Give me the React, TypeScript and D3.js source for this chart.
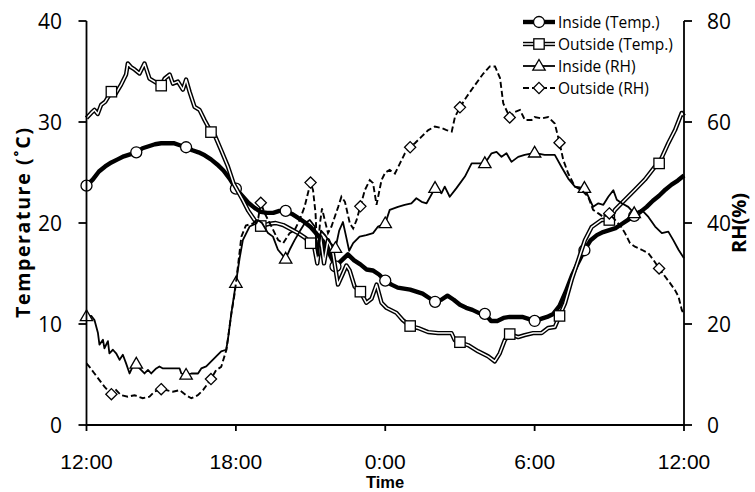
import * as d3 from "d3";

// x axis: hours since 12:00
const hourTicks = [0, 6, 12, 18, 24];
const hourLabels = ["12:00", "18:00", "0:00", "6:00", "12:00"];
const tempTicks = [0, 10, 20, 30, 40];
const rhTicks = [0, 20, 40, 60, 80];
const evenHours = [0, 2, 4, 6, 8, 10, 12, 14, 16, 18, 20, 22];
const oddHours = [1, 3, 5, 7, 9, 11, 13, 15, 17, 19, 21, 23];

// [hour, °C]
const insideTemp: [number, number][] = [
  [0, 23.7], [0.25, 24.3], [0.5, 25.1], [0.75, 25.6], [1, 26.0], [1.25, 26.3], [1.5, 26.6], [1.75, 26.8],
  [2, 27.0], [2.25, 27.4], [2.5, 27.6], [2.75, 27.8], [3, 27.9], [3.25, 27.9], [3.5, 27.9], [3.75, 27.7],
  [4, 27.5], [4.25, 27.2], [4.5, 27.0], [4.75, 26.7], [5, 26.3], [5.25, 25.8], [5.5, 25.2], [5.75, 24.4],
  [6, 23.4], [6.25, 22.7], [6.5, 22.0], [6.75, 21.5], [7, 21.1], [7.25, 21.0], [7.5, 21.0], [7.75, 21.2],
  [8, 21.2], [8.25, 20.9], [8.5, 20.5], [8.75, 20.1], [9, 19.6], [9.25, 18.9], [9.5, 18.2], [9.75, 17.0],
  [10, 15.7], [10.25, 16.3], [10.5, 16.9], [10.75, 16.3], [11, 15.9], [11.25, 15.4], [11.5, 15.3], [11.75, 14.9],
  [12, 14.3], [12.25, 13.9], [12.5, 13.6], [12.75, 13.5], [13, 13.4], [13.25, 13.2], [13.5, 13.0], [13.75, 12.6],
  [14, 12.2], [14.25, 12.4], [14.5, 12.8], [14.75, 12.4], [15, 11.9], [15.25, 11.6], [15.5, 11.4], [15.75, 11.1],
  [16, 11.0], [16.25, 10.3], [16.5, 10.3], [16.75, 10.6], [17, 10.7], [17.25, 10.7], [17.5, 10.7], [17.75, 10.5],
  [18, 10.3], [18.25, 10.5], [18.5, 10.7], [18.75, 11.0], [19, 11.8], [19.25, 13.2], [19.5, 14.8], [19.75, 16.1],
  [20, 17.3], [20.25, 18.3], [20.5, 18.8], [20.75, 19.1], [21, 19.3], [21.25, 19.5], [21.5, 19.9], [21.75, 20.3],
  [22, 20.7], [22.25, 21.1], [22.5, 21.6], [22.75, 22.2], [23, 22.7], [23.25, 23.3], [23.5, 23.8], [23.75, 24.2],
  [24, 24.7],
];

const outsideTemp: [number, number][] = [
  [0, 30.4], [0.19, 30.9], [0.32, 31.2], [0.45, 30.8], [0.59, 31.7], [0.75, 32.0], [1, 33.0], [1.15, 32.7],
  [1.39, 33.7], [1.59, 34.7], [1.66, 35.8], [1.8, 35.4], [1.93, 35.2], [2.13, 34.8], [2.33, 35.8], [2.53, 34.3],
  [2.73, 34.0], [3, 33.6], [3.14, 34.3], [3.34, 34.7], [3.47, 33.8], [3.67, 34.0], [3.87, 33.2], [4.0, 34.2],
  [4.14, 33.0], [4.34, 31.5], [4.54, 31.2], [4.74, 30.2], [5, 29.0], [5.15, 28.7], [5.41, 27.2], [5.68, 25.6],
  [5.91, 23.9], [6.25, 22.4], [6.5, 21.2], [6.75, 20.3], [7, 19.7], [7.3, 19.9], [7.6, 20.0], [7.9, 19.8],
  [8.2, 19.4], [8.5, 19.0], [8.8, 18.5], [9, 18.0], [9.15, 17.6], [9.27, 16.0], [9.4, 18.6], [9.54, 16.0],
  [9.7, 18.3], [9.9, 17.0], [10.1, 13.9], [10.3, 15.0], [10.44, 15.8], [10.57, 15.3], [10.77, 13.7], [11, 13.2],
  [11.24, 12.1], [11.45, 12.5], [11.65, 13.9], [11.85, 12.1], [12.05, 11.6], [12.45, 11.1], [12.7, 10.4], [13, 9.8],
  [13.32, 9.6], [13.72, 9.2], [14.12, 9.1], [14.66, 9.1], [14.79, 8.4], [15, 8.2], [15.33, 7.9], [15.73, 7.3],
  [16.13, 6.8], [16.4, 6.3], [16.6, 7.1], [16.8, 8.4], [17, 9.0], [17.34, 8.7], [17.6, 8.9], [17.94, 9.1],
  [18.28, 9.1], [18.54, 9.6], [18.81, 9.7], [19, 10.8], [19.22, 12.05], [19.49, 14.4], [19.75, 16.3], [20.02, 18.3],
  [20.29, 19.6], [20.69, 20.3], [21, 20.3], [21.23, 21.3], [21.63, 22.3], [22.03, 23.3], [22.43, 24.3], [22.84, 25.6],
  [23, 25.9], [23.37, 27.9], [23.64, 29.2], [23.91, 30.9], [24, 30.6],
];

// [hour, %RH]
const insideRH: [number, number][] = [
  [0, 21.5], [0.19, 21.6], [0.32, 20.8], [0.46, 18.2], [0.52, 15.9], [0.66, 16.9], [0.72, 15.2], [0.86, 16.6],
  [0.92, 14.2], [1.06, 14.9], [1.19, 14.2], [1.33, 12.9], [1.46, 13.9], [1.59, 12.2], [1.73, 10.2], [1.86, 11.6],
  [2, 12.1], [2.13, 11.2], [2.33, 10.2], [2.47, 10.9], [2.6, 10.2], [2.8, 11.2], [2.93, 11.6], [3.07, 11.2],
  [3.54, 11.2], [3.74, 11.2], [3.81, 10.2], [4, 9.9], [4.21, 10.2], [4.48, 10.2], [4.61, 11.2], [4.81, 11.6],
  [5.01, 12.6], [5.21, 13.6], [5.41, 14.6], [5.61, 14.9], [5.68, 16.9], [5.82, 22.2], [6, 28.1], [6.15, 33.0],
  [6.28, 36.6], [6.55, 39.3], [6.82, 39.9], [6.89, 40.6], [7.05, 40.0], [7.29, 38.0], [7.49, 37.3], [7.69, 34.7],
  [8, 32.9], [8.16, 34.7], [8.36, 36.6], [8.56, 38.3], [8.76, 39.9], [8.97, 40.6], [9.17, 39.3], [9.3, 33.5],
  [9.42, 38.5], [9.6, 37.5], [9.8, 36.0], [10, 35.0], [10.15, 38.5], [10.3, 40.2], [10.42, 37.5], [10.55, 34.5],
  [10.71, 36.0], [10.97, 37.3], [11.24, 37.6], [11.51, 38.0], [11.71, 39.3], [12, 39.9], [12.18, 42.6], [12.51, 43.2],
  [12.78, 43.6], [13.05, 43.9], [13.25, 44.9], [13.46, 44.2], [13.66, 43.9], [14, 46.9], [14.26, 45.9], [14.39, 47.2],
  [14.59, 45.2], [14.86, 46.9], [15.2, 49.2], [15.47, 51.8], [16, 51.8], [16.27, 53.8], [16.47, 54.1], [16.67, 53.1],
  [16.87, 53.8], [17.07, 52.1], [17.34, 53.1], [17.6, 53.5], [18, 53.9], [18.4, 53.5], [18.81, 53.5], [19.08, 51.1],
  [19.35, 48.8], [19.62, 47.2], [20, 46.9], [20.22, 44.6], [20.35, 43.2], [20.56, 43.9], [20.76, 43.6], [20.96, 45.2],
  [21.16, 46.5], [21.3, 44.6], [21.5, 43.9], [21.76, 43.2], [22, 41.9], [22.3, 42.6], [22.57, 41.2], [22.84, 39.3],
  [23.11, 38.0], [23.37, 38.3], [23.57, 36.6], [23.78, 34.7], [24, 33.0],
];

const outsideRH: [number, number][] = [
  [0, 12.2], [0.12, 11.5], [0.32, 10.2], [0.52, 8.9], [0.72, 7.6], [1, 6.1], [1.19, 6.9], [1.39, 5.9],
  [1.66, 5.6], [1.93, 5.9], [2.26, 5.3], [2.53, 5.6], [2.73, 6.6], [3, 7.1], [3.2, 6.9], [3.47, 6.6],
  [3.74, 6.9], [4, 5.9], [4.21, 5.3], [4.47, 5.9], [4.68, 6.9], [5, 9.1], [5.21, 10.9], [5.41, 11.5],
  [5.62, 14.9], [5.82, 22.1], [5.95, 26.0], [6.08, 31.3], [6.22, 37.3], [6.4, 39.5], [6.69, 39.9], [6.9, 41.0],
  [7, 44.0], [7.16, 41.9], [7.43, 39.3], [7.7, 36.6], [7.9, 36.0], [8.16, 38.0], [8.36, 38.6], [8.56, 40.6],
  [8.76, 43.2], [9, 48.0], [9.1, 46.5], [9.2, 41.9], [9.27, 34.0], [9.38, 40.0], [9.46, 42.9], [9.57, 40.6],
  [9.7, 38.0], [9.84, 39.3], [9.97, 41.2], [10.11, 43.2], [10.24, 45.2], [10.38, 44.2], [10.58, 39.9], [10.71, 38.9],
  [10.85, 40.6], [11, 43.3], [11.18, 46.5], [11.38, 48.5], [11.51, 47.9], [11.65, 43.6], [11.85, 48.5], [12, 50.0],
  [12.18, 50.5], [12.39, 49.8], [12.59, 51.8], [12.79, 53.8], [13, 55.0], [13.19, 55.8], [13.46, 57.1], [13.73, 58.4],
  [13.99, 59.1], [14.26, 58.8], [14.46, 58.4], [14.67, 58.1], [14.8, 61.0], [15, 62.9], [15.27, 65.0], [15.6, 67.3],
  [15.94, 69.6], [16.2, 71.0], [16.41, 71.0], [16.61, 68.7], [16.74, 63.7], [17, 60.9], [17.21, 62.0], [17.41, 62.4],
  [17.61, 60.4], [17.88, 60.4], [18, 61.0], [18.28, 60.7], [18.54, 61.0], [18.81, 59.7], [19, 55.9], [19.15, 52.5],
  [19.35, 49.8], [19.62, 47.2], [19.89, 46.5], [20.15, 45.2], [20.35, 42.6], [20.56, 41.9], [20.76, 41.2], [21, 41.9],
  [21.23, 40.6], [21.47, 39.3], [21.63, 38.0], [21.83, 36.0], [22.03, 35.3], [22.3, 34.7], [22.57, 34.0], [22.77, 32.7],
  [23, 31.0], [23.24, 29.4], [23.44, 28.1], [23.64, 26.7], [23.78, 25.4], [23.91, 22.8], [24, 21.8],
];

const labelFont = "'Open Sans', 'DejaVu Sans', sans-serif";
const timeFont = "'Liberation Sans', Arial, sans-serif";

// value of a series at hour h (linear between samples)
function valueAt(data: [number, number][], h: number) {
  const i = d3.bisector((d: [number, number]) => d[0]).left(data, h);
  if (i <= 0) return data[0][1];
  if (i >= data.length) return data[data.length - 1][1];
  const [h1, v1] = data[i];
  if (h1 === h) return v1;
  const [h0, v0] = data[i - 1];
  return v0 + ((v1 - v0) * (h - h0)) / (h1 - h0);
}

function Marker({ type, cx, cy }: { type: string; cx: number; cy: number }) {
  const common = { fill: "#fff", stroke: "#000", strokeWidth: 1.3 };
  if (type === "circle") return <circle cx={cx} cy={cy} r={5.5} {...common} />;
  if (type === "square") return <rect x={cx - 5.2} y={cy - 5.2} width={10.4} height={10.4} {...common} />;
  if (type === "triangle")
    return <polygon points={`${cx},${cy - 6.5} ${cx + 6.2},${cy + 4.2} ${cx - 6.2},${cy + 4.2}`} {...common} />;
  return <polygon points={`${cx},${cy - 5.6} ${cx + 5.6},${cy} ${cx},${cy + 5.6} ${cx - 5.6},${cy}`} {...common} />;
}

function StyledPath({ d, kind }: { d: string; kind: string }) {
  if (kind === "thick")
    return <path d={d} fill="none" stroke="#000" strokeWidth={4.4} strokeLinejoin="round" />;
  if (kind === "double")
    return (
      <g>
        <path d={d} fill="none" stroke="#000" strokeWidth={4.4} strokeLinejoin="round" />
        <path d={d} fill="none" stroke="#fff" strokeWidth={1.5} strokeLinejoin="round" />
      </g>
    );
  if (kind === "dashed")
    return <path d={d} fill="none" stroke="#000" strokeWidth={1.9} strokeDasharray="6 3" />;
  return <path d={d} fill="none" stroke="#000" strokeWidth={1.8} strokeLinejoin="round" />;
}

export default function App() {
  const width = 755;
  const height = 492;
  const x0 = 86.5, x1 = 684, yBottom = 425, yTop = 21;

  const x = d3.scaleLinear().domain([0, 24]).range([x0, x1]);
  const yT = d3.scaleLinear().domain([0, 40]).range([yBottom, yTop]);
  const yRH = d3.scaleLinear().domain([0, 80]).range([yBottom, yTop]);

  const series = [
    { label: "Inside (Temp.)", data: insideTemp, y: yT, kind: "thick", marker: "circle", hours: evenHours },
    { label: "Outside (Temp.)", data: outsideTemp, y: yT, kind: "double", marker: "square", hours: oddHours },
    { label: "Inside (RH)", data: insideRH, y: yRH, kind: "thin", marker: "triangle", hours: evenHours },
    { label: "Outside (RH)", data: outsideRH, y: yRH, kind: "dashed", marker: "diamond", hours: oddHours },
  ];

  const legendX = 523, legendW = 32;
  const legendY = d3.scalePoint<number>().domain([0, 1, 2, 3]).range([22, 88]);

  return (
    <svg width={width} height={height} style={{ position: "absolute", left: 0, top: 0, background: "#fff" }}>
      {series.map((s) => {
        const line = d3
          .line<[number, number]>()
          .x((d) => x(d[0]))
          .y((d) => s.y(d[1]));
        return (
          <g key={s.label}>
            <StyledPath d={line(s.data) || ""} kind={s.kind} />
            {s.hours.map((h) => (
              <Marker key={h} type={s.marker} cx={x(h)} cy={s.y(valueAt(s.data, h))} />
            ))}
          </g>
        );
      })}

      {/* axes */}
      <g stroke="#000" strokeWidth={1.8}>
        <line x1={x0} x2={x0} y1={yTop} y2={yBottom + 0.9} />
        <line x1={x1} x2={x1} y1={yTop} y2={yBottom + 0.9} />
        <line x1={x0} x2={x1} y1={yBottom} y2={yBottom} />
        {tempTicks.map((t) => (
          <line key={"lt" + t} x1={x0 - 8} x2={x0} y1={yT(t)} y2={yT(t)} />
        ))}
        {rhTicks.map((t) => (
          <line key={"rt" + t} x1={x1} x2={x1 + 8} y1={yRH(t)} y2={yRH(t)} />
        ))}
        {hourTicks.map((t) => (
          <line key={"xt" + t} x1={x(t)} x2={x(t)} y1={yBottom} y2={yBottom + 6} />
        ))}
      </g>

      {tempTicks.map((t) => (
        <text key={"ll" + t} x={62} y={yT(t) + 7.5} textAnchor="end" fontFamily={labelFont} fontSize={21}>
          {t}
        </text>
      ))}
      {rhTicks.map((t) => (
        <text key={"rl" + t} x={707} y={yRH(t) + 7.5} textAnchor="start" fontFamily={labelFont} fontSize={21}>
          {t}
        </text>
      ))}
      {hourTicks.map((t, i) => (
        <text key={"xl" + t} x={x(t)} y={469} textAnchor="middle" fontFamily={timeFont} fontSize={21}>
          {hourLabels[i]}
        </text>
      ))}

      <text x={385} y={487.5} textAnchor="middle" fontFamily={timeFont} fontWeight="bold" fontSize={16.5}>
        Time
      </text>
      <text
        transform="translate(30,223) rotate(-90)"
        textAnchor="middle"
        fontFamily={labelFont}
        fontWeight="bold"
        fontSize={19.5}
        textLength={190}
        lengthAdjust="spacing"
      >
        Temperature (˚C)
      </text>
      <text
        transform="translate(746,223) rotate(-90)"
        textAnchor="middle"
        fontFamily={labelFont}
        fontWeight="bold"
        fontSize={20}
      >
        RH(%)
      </text>

      {/* legend */}
      {series.map((s, i) => {
        const ly = legendY(i) as number;
        const d = `M${legendX},${ly}L${legendX + legendW},${ly}`;
        return (
          <g key={"lg" + s.label}>
            <StyledPath d={d} kind={s.kind} />
            <Marker type={s.marker} cx={legendX + legendW / 2} cy={ly} />
            <text x={legendX + legendW + 3} y={ly + 5.5} fontFamily={labelFont} fontSize={15.5}>
              {s.label}
            </text>
          </g>
        );
      })}
    </svg>
  );
}
